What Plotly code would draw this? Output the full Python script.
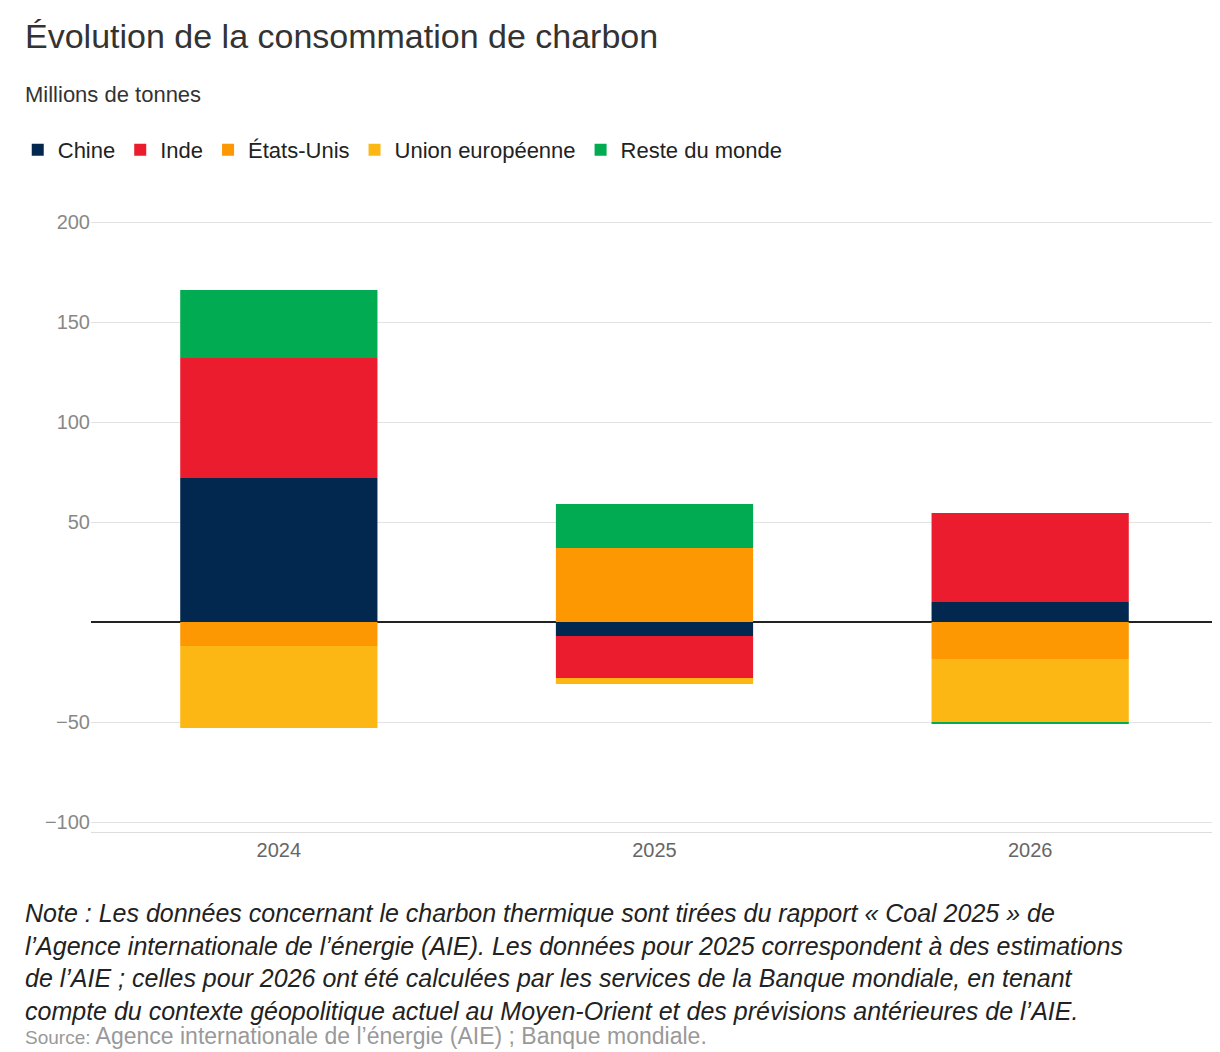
import plotly.graph_objects as go

years = ["2024", "2025", "2026"]
chine = [72, -7, 10]
inde = [60, -21, 44.5]
etats_unis = [-12, 37, -18.5]
ue = [-41, -3, -31.5]
reste = [34, 22, -1]

series = [("Chine", chine, "#02284f"), ("Inde", inde, "#eb1c2d"),
          ("États-Unis", etats_unis, "#fd9702"), ("Union européenne", ue, "#fdb714"),
          ("Reste du monde", reste, "#00ab51")]

fig = go.Figure()
for name, vals, col in series:
    fig.add_bar(x=years, y=vals, name=name, marker_color=col, marker_line_width=0)

font = "Liberation Sans, Arial, sans-serif"
X0 = -0.06
fig.update_layout(
    barmode="relative", bargap=0.475,
    width=1220, height=1052, plot_bgcolor="white", paper_bgcolor="white",
    font=dict(family=font, size=22, color="#333"),
    margin=dict(l=78, r=10, t=204, b=228),
    legend=dict(orientation="h", x=X0 - 0.005, y=1.1, xanchor="left", yanchor="middle",
                font=dict(size=22, color="#222"), traceorder="normal"),
    xaxis=dict(tickfont=dict(size=20, color="#666"), showline=True, linecolor="#ddd"),
    yaxis=dict(range=[-105, 205], tickvals=[-100, -50, 0, 50, 100, 150, 200],
               ticktext=["−100", "−50", "", "50", "100", "150", "200"],
               tickfont=dict(size=20, color="#888"), gridcolor="#e3e3e3",
               zeroline=True, zerolinecolor="#222", zerolinewidth=1.5, ticklen=0),
)
fig.add_annotation(text="Évolution de la consommation de charbon", xref="paper", yref="paper",
                   x=X0, y=1.25, xanchor="left", yanchor="bottom", showarrow=False,
                   font=dict(size=34, color="#333", family=font))
fig.add_annotation(text="Millions de tonnes", xref="paper", yref="paper",
                   x=X0, y=1.166, xanchor="left", yanchor="bottom", showarrow=False,
                   font=dict(size=22, color="#333"))
note = ("<i>Note : Les données concernant le charbon thermique sont tirées du rapport « Coal 2025 » de<br>"
        "l’Agence internationale de l’énergie (AIE). Les données pour 2025 correspondent à des estimations<br>"
        "de l’AIE ; celles pour 2026 ont été calculées par les services de la Banque mondiale, en tenant<br>"
        "compte du contexte géopolitique actuel au Moyen-Orient et des prévisions antérieures de l’AIE.</i>")
fig.add_annotation(text=note, xref="paper", yref="paper", x=X0, y=-0.105, xanchor="left",
                   yanchor="top", align="left", showarrow=False,
                   font=dict(size=25, color="#222"))
fig.add_annotation(text="<span style='font-size:19px'>Source:</span> Agence internationale de l’énergie (AIE) ; Banque mondiale.",
                   xref="paper", yref="paper", x=X0, y=-0.305, xanchor="left", yanchor="top",
                   showarrow=False, font=dict(size=23, color="#999"))
fig.write_html("out.html")
